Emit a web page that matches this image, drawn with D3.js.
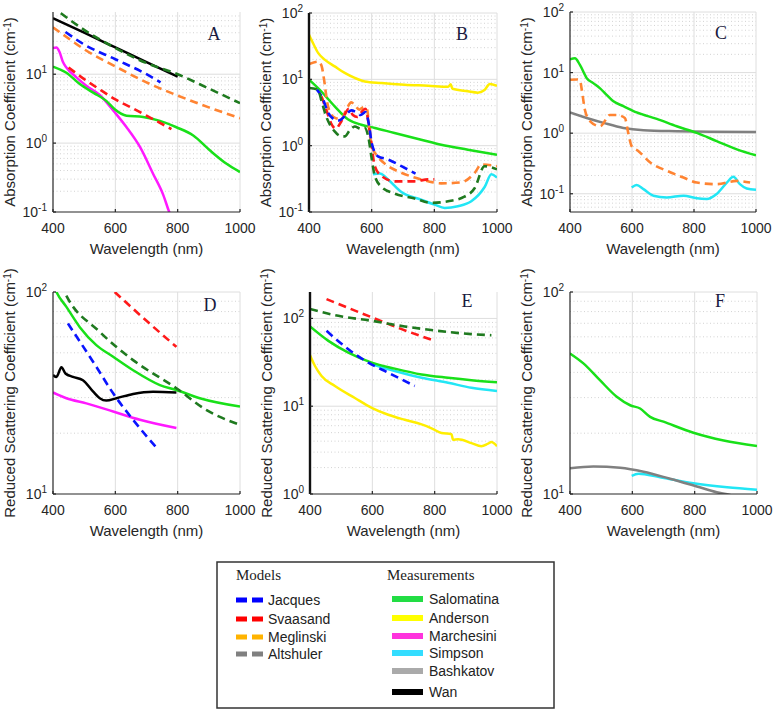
<!DOCTYPE html>
<html><head><meta charset="utf-8">
<script src="https://cdn.jsdelivr.net/npm/d3@7"></script>
<style>body{margin:0;background:#fff}svg{display:block}</style>
</head><body>
<svg id="chart" width="774" height="714"></svg>
<script>
// ---------- DATA (wavelength nm, coefficient) ----------
const xTicks = [400, 600, 800, 1000];
const legendModels = ["Jacques", "Svaasand", "Meglinski", "Altshuler"];
const legendMeasurements = ["Salomatina", "Anderson", "Marchesini", "Simpson", "Bashkatov", "Wan"];

const A_altshuler = [[425,77],[500,44],[600,24],[700,14.5],[800,10],[900,6.2],[1000,3.8]];
const A_wan = [[400,65],[500,40],[600,24.5],[700,15],[800,9.2]];
const A_jacques = [[440,41],[500,27],[600,16.5],[700,10],[745,7.6]];
const A_meglinski = [[400,48],[450,33],[500,23],[600,13],[700,7.6],[800,4.9],[900,3.3],[1000,2.3]];
const A_svaasand = [[450,12.5],[500,8.5],[550,6],[600,4.3],[650,3.3],[700,2.5],[780,1.6]];
const A_salomatina = [[400,12.9],[443,10.5],[486,7.2],[529,5.4],[571,4.1],[598,3.1],[636,2.5],[689,2.4],[743,2.1],[796,1.7],[850,1.29],[904,0.78],[957,0.5],[1000,0.38]];
const A_marchesini = [[400,24],[411,24.5],[421,21],[432,15],[443,12.5],[475,9],[507,6.8],[550,5],[598,2.8],[636,1.7],[679,0.88],[721,0.36],[754,0.176],[773,0.1],[790,0.07]];

const B_anderson = [[400,47],[413,35],[429,25],[450,19.8],[482,15.7],[514,12.5],[546,10.5],[578,9.3],[631,8.8],[705,8.3],[780,8.0],[844,7.7],[852,8.4],[858,7.2],[907,6.6],[939,6.3],[960,6.9],[977,8.5],[1000,8.0]];
const B_salomatina = [[400,9.9],[439,6.6],[482,3.9],[524,2.5],[567,2.07],[610,1.85],[673,1.55],[758,1.23],[822,1.03],[907,0.87],[1000,0.73]];
const B_meglinski = [[400,17],[430,18.5],[440,16],[448,10],[458,4.5],[470,3],[485,2.6],[503,2.5],[520,3.6],[535,4.5],[548,4],[560,3.5],[575,3.8],[585,3.6],[592,1.8],[600,1.0],[620,0.68],[650,0.5],[690,0.4],[737,0.33],[780,0.29],[822,0.27],[886,0.28],[929,0.39],[950,0.52],[1000,0.49]];
const B_jacques = [[425,7],[445,5],[460,3.2],[475,2.6],[495,2.4],[515,2.8],[535,3.4],[550,3.2],[565,2.9],[580,3.2],[592,2.0],[600,1.1],[620,0.69],[652,0.62],[695,0.49],[740,0.38]];
const B_svaasand = [[440,5.5],[455,3.5],[470,2.2],[485,1.8],[500,2.2],[515,3.0],[527,3.6],[540,2.9],[555,2.7],[570,3.3],[580,3.6],[590,2.2],[597,1.3],[610,0.49],[631,0.35],[673,0.29],[737,0.29],[780,0.31],[800,0.31]];
const B_altshuler = [[400,7.4],[429,7.0],[439,4.9],[455,2.75],[482,1.64],[500,1.4],[514,1.38],[530,1.7],[546,1.95],[565,1.8],[578,1.85],[590,1.3],[599,0.69],[610,0.35],[631,0.24],[673,0.19],[737,0.16],[790,0.137],[844,0.145],[896,0.17],[929,0.23],[960,0.49],[1000,0.44]];
const B_simpson = [[604,0.37],[626,0.38],[652,0.31],[695,0.2],[758,0.153],[801,0.129],[833,0.115],[875,0.122],[918,0.145],[961,0.24],[982,0.37],[1000,0.33]];

const C_salomatina = [[400,16.5],[416,17.2],[432,13.4],[454,8.1],[475,6.7],[497,5.5],[518,4.3],[540,3.35],[572,2.8],[615,2.2],[680,1.72],[744,1.3],[809,1.01],[873,0.74],[938,0.54],[1000,0.43]];
const C_bashkatov = [[400,2.2],[454,1.78],[508,1.48],[572,1.22],[637,1.12],[744,1.08],[852,1.06],[1000,1.05]];
const C_meglinski = [[400,7.6],[422,7.7],[432,7.5],[438,5.2],[448,2.44],[465,1.57],[497,1.3],[529,2.0],[550,2.0],[577,1.78],[588,1.0],[599,0.61],[620,0.51],[658,0.33],[712,0.24],[766,0.185],[809,0.153],[873,0.144],[938,0.163],[981,0.153]];
const C_simpson = [[599,0.127],[615,0.139],[637,0.119],[669,0.093],[712,0.087],[766,0.093],[809,0.084],[841,0.082],[873,0.099],[906,0.153],[927,0.19],[948,0.144],[970,0.122],[1000,0.116]];

const D_svaasand = [[598,100],[700,72],[796,53.5]];
const D_altshuler = [[425,110],[437,100],[550,63.5],[657,46],[796,33.4],[893,26],[1000,22]];
const D_salomatina = [[405,105],[411,100],[443,84.4],[486,67],[539,54.6],[593,47.8],[657,41],[743,34.6],[796,32.7],[871,29.8],[1000,27.1]];
const D_jacques = [[448,69.8],[539,42.6],[593,31.5],[657,23.3],[737,16.6]];
const D_wan = [[400,38.8],[411,38],[427,42.4],[440,39.5],[464,38],[496,36.6],[529,32.1],[550,29.8],[571,29],[604,29.8],[657,31.3],[721,32.1],[796,31.8]];
const D_marchesini = [[400,31.8],[443,29.8],[507,28.1],[593,25.6],[679,23.3],[796,21.2]];

const E_svaasand = [[453,166],[598,103],[694,75.5],[800,55.5]];
const E_altshuler = [[400,128],[491,107],[598,94],[704,81],[811,72.2],[918,66.2],[982,64.4]];
const E_jacques = [[453,72.2],[523,44.6],[587,31.4],[651,24.1],[736,17]];
const E_salomatina = [[400,81],[459,55.5],[523,40.8],[598,31.4],[672,26.8],[758,23],[843,21.1],[918,19.8],[1000,18.8]];
const E_simpson = [[598,30],[672,25.2],[758,21.1],[843,18.5],[918,16.2],[1000,14.9]];
const E_anderson = [[400,38],[416,28.7],[437,22.1],[480,17],[544,12.4],[598,9.6],[651,8.0],[704,7.0],[758,6.2],[790,5.6],[822,4.95],[854,4.8],[859,4.15],[875,4.2],[918,3.8],[950,3.5],[971,3.74],[982,3.9],[1000,3.5]];

const F_salomatina = [[400,49.6],[443,44.3],[496,36.6],[550,30.3],[593,27.5],[625,26.5],[657,24.1],[700,22.8],[796,20.1],[893,18.4],[1000,17.3]];
const F_bashkatov = [[400,13.4],[475,13.7],[561,13.5],[636,12.9],[721,11.9],[807,10.9],[871,10.2],[914,9.9],[950,9.5]];
const F_simpson = [[598,12.3],[620,12.6],[689,12.1],[796,11.3],[904,10.8],[1000,10.5]];

// ---------- STYLES ----------
const plotStyle = {
  Jacques:{c:"#0a14ff",dash:true}, Svaasand:{c:"#ff1a1a",dash:true},
  Meglinski:{c:"#ff8432",dash:true}, Altshuler:{c:"#1f7a1f",dash:true},
  Salomatina:{c:"#19e019"}, Anderson:{c:"#ffee00"}, Marchesini:{c:"#ff19ff"},
  Simpson:{c:"#22e6f5"}, Bashkatov:{c:"#808080"}, Wan:{c:"#000000"}
};
const legendColor = {Jacques:"#0000ff",Svaasand:"#ff0000",Meglinski:"#ffb300",Altshuler:"#808080",
  Salomatina:"#22dd44",Anderson:"#ffff00",Marchesini:"#ff33dd",Simpson:"#33ddff",Bashkatov:"#aaaaaa",Wan:"#000000"};

const ABS = "Absorption Coefficient (cm", SCA = "Reduced Scattering Coefficient (cm";
const panels = [
  {id:"A",x0:53,x1:240,y0:12,y1:212,dom:[0.1,80],lab:ABS,lx:214,ly:40,thick:false,
   s:[["Marchesini",A_marchesini],["Salomatina",A_salomatina],["Svaasand",A_svaasand],["Meglinski",A_meglinski],["Jacques",A_jacques],["Wan",A_wan],["Altshuler",A_altshuler]]},
  {id:"B",x0:309,x1:497,y0:13,y1:212,dom:[0.1,100],lab:ABS,lx:462,ly:40,thick:true,
   s:[["Anderson",B_anderson],["Simpson",B_simpson],["Salomatina",B_salomatina],["Meglinski",B_meglinski],["Svaasand",B_svaasand],["Jacques",B_jacques],["Altshuler",B_altshuler]]},
  {id:"C",x0:570,x1:756,y0:12,y1:212,dom:[0.05,100],lab:ABS,lx:721,ly:39,thick:false,
   s:[["Simpson",C_simpson],["Bashkatov",C_bashkatov],["Salomatina",C_salomatina],["Meglinski",C_meglinski]]},
  {id:"D",x0:53,x1:240,y0:292,y1:494,dom:[10,100],lab:SCA,lx:210,ly:311,thick:false,
   s:[["Marchesini",D_marchesini],["Wan",D_wan],["Salomatina",D_salomatina],["Jacques",D_jacques],["Svaasand",D_svaasand],["Altshuler",D_altshuler]]},
  {id:"E",x0:310,x1:497,y0:292,y1:494,dom:[1,200],lab:SCA,lx:467,ly:307,thick:true,
   s:[["Anderson",E_anderson],["Simpson",E_simpson],["Salomatina",E_salomatina],["Jacques",E_jacques],["Svaasand",E_svaasand],["Altshuler",E_altshuler]]},
  {id:"F",x0:570,x1:757,y0:292,y1:494,dom:[10,100],lab:SCA,lx:720,ly:307,thick:false,
   s:[["Simpson",F_simpson],["Bashkatov",F_bashkatov],["Salomatina",F_salomatina]]}
];

const svg = d3.select("#chart");
const SANS = "'Liberation Sans', Arial, sans-serif", SERIF = "'Liberation Serif', 'Times New Roman', serif";
const defs = svg.append("defs");

panels.forEach(p => {
  const x = d3.scaleLinear().domain([400,1000]).range([p.x0,p.x1]);
  const y = d3.scaleLog().domain(p.dom).range([p.y1,p.y0]);
  const g = svg.append("g");
  defs.append("clipPath").attr("id","clip"+p.id).append("rect")
    .attr("x",p.x0).attr("y",p.y0).attr("width",p.x1-p.x0).attr("height",p.y1-p.y0);

  // minor & major horizontal grid
  const lo = Math.floor(Math.log10(p.dom[0])), hi = Math.ceil(Math.log10(p.dom[1]));
  const minors = [], majors = [];
  for (let e=lo; e<=hi; e++) {
    const b = Math.pow(10,e);
    if (b>=p.dom[0]-1e-9 && b<=p.dom[1]+1e-9) majors.push(b);
    for (let k=2;k<=9;k++){ const v=k*b; if (v>p.dom[0]*1.0001 && v<p.dom[1]*0.9999) minors.push(v); }
  }
  g.selectAll(".mn").data(minors).join("line")
    .attr("x1",p.x0).attr("x2",p.x1).attr("y1",d=>y(d)).attr("y2",d=>y(d))
    .attr("stroke","#c8c8c8").attr("stroke-width",0.8).attr("stroke-dasharray","1,2.5");
  g.selectAll(".mj").data(majors.filter(v=>v>p.dom[0])).join("line")
    .attr("x1",p.x0).attr("x2",p.x1).attr("y1",d=>y(d)).attr("y2",d=>y(d))
    .attr("stroke","#dedede").attr("stroke-width",1);
  g.selectAll(".vg").data(xTicks.slice(1)).join("line")
    .attr("x1",d=>x(d)).attr("x2",d=>x(d)).attr("y1",p.y0).attr("y2",p.y1)
    .attr("stroke","#dedede").attr("stroke-width",1);

  // series
  const line = d3.line().x(d=>x(d[0])).y(d=>y(d[1])).curve(d3.curveMonotoneX);
  const sg = g.append("g").attr("clip-path","url(#clip"+p.id+")");
  p.s.forEach(([name,data]) => {
    const st = plotStyle[name];
    sg.append("path").datum(data).attr("d",line).attr("fill","none")
      .attr("stroke",st.c).attr("stroke-width",st.dash?2.6:2.5)
      .attr("stroke-dasharray",st.dash?"8,5":null).attr("stroke-linejoin","round");
  });

  // axes lines
  g.append("line").attr("x1",p.x0).attr("x2",p.x1).attr("y1",p.y1).attr("y2",p.y1)
    .attr("stroke","#262626").attr("stroke-width",1.2);
  g.append("line").attr("x1",p.x0).attr("x2",p.x0).attr("y1",p.y0).attr("y2",p.y1)
    .attr("stroke",p.thick?"#111":"#262626").attr("stroke-width",p.thick?2.4:1.2);
  g.selectAll(".xt").data(xTicks).join("line")
    .attr("x1",d=>x(d)).attr("x2",d=>x(d)).attr("y1",p.y1).attr("y2",p.y1-3)
    .attr("stroke","#262626").attr("stroke-width",1.2);
  g.selectAll(".yt").data(majors).join("line")
    .attr("x1",p.x0).attr("x2",p.x0+3).attr("y1",d=>y(d)).attr("y2",d=>y(d))
    .attr("stroke","#262626").attr("stroke-width",1.2);

  // tick labels
  g.selectAll(".xl").data(xTicks).join("text")
    .attr("x",d=>x(d)).attr("y",p.y1+21).attr("text-anchor","middle")
    .attr("font-family",SANS).attr("font-size",14).attr("fill","#262626").text(d=>d);
  const yl = g.selectAll(".yl").data(majors).join("text")
    .attr("x",p.x0-6).attr("y",d=>y(d)+5).attr("text-anchor","end")
    .attr("font-family",SANS).attr("font-size",14).attr("fill","#262626");
  yl.append("tspan").text("10");
  yl.append("tspan").attr("dy",-6).attr("font-size",10).text(d=>String(Math.round(Math.log10(d))));

  // axis titles
  g.append("text").attr("x",(p.x0+p.x1)/2).attr("y",p.y1+42).attr("text-anchor","middle")
    .attr("font-family",SANS).attr("font-size",15).attr("fill","#262626").text("Wavelength (nm)");
  const cy = (p.y0+p.y1)/2, cx = p.x0-38;
  const t = g.append("text").attr("transform",`translate(${cx},${cy}) rotate(-90)`)
    .attr("text-anchor","middle").attr("font-family",SANS).attr("font-size",15).attr("fill","#262626");
  t.append("tspan").text(p.lab);
  t.append("tspan").attr("dy",-4).attr("font-size",10).text("-1");
  t.append("tspan").attr("dy",4).text(")");

  // panel letter
  g.append("text").attr("x",p.lx).attr("y",p.ly).attr("text-anchor","middle")
    .attr("font-family",SERIF).attr("font-size",18).attr("fill","#1a1a40").text(p.id);
});

// ---------- LEGEND ----------
const lg = svg.append("g");
lg.append("rect").attr("x",217).attr("y",562).attr("width",337).attr("height",146)
  .attr("fill","#fff").attr("stroke","#333").attr("stroke-width",1.5);
lg.append("text").attr("x",236).attr("y",580).attr("font-family",SERIF).attr("font-size",15).attr("fill","#222").text("Models");
lg.append("text").attr("x",387).attr("y",580).attr("font-family",SERIF).attr("font-size",15).attr("fill","#222").text("Measurements");
const modelY = [600,619,637,654];
legendModels.forEach((n,i) => {
  [236,252].forEach(sx => lg.append("rect").attr("x",sx).attr("y",modelY[i]-2.5).attr("width",11).attr("height",5).attr("fill",legendColor[n]));
  lg.append("text").attr("x",268).attr("y",modelY[i]+5).attr("font-family",SANS).attr("font-size",14).attr("fill","#222").text(n);
});
const measY = [599,618,636,653,671,692];
legendMeasurements.forEach((n,i) => {
  lg.append("rect").attr("x",392).attr("y",measY[i]-3).attr("width",31).attr("height",6).attr("fill",legendColor[n]);
  lg.append("text").attr("x",429).attr("y",measY[i]+5).attr("font-family",SANS).attr("font-size",14).attr("fill","#222").text(n);
});
</script>
</body></html>
